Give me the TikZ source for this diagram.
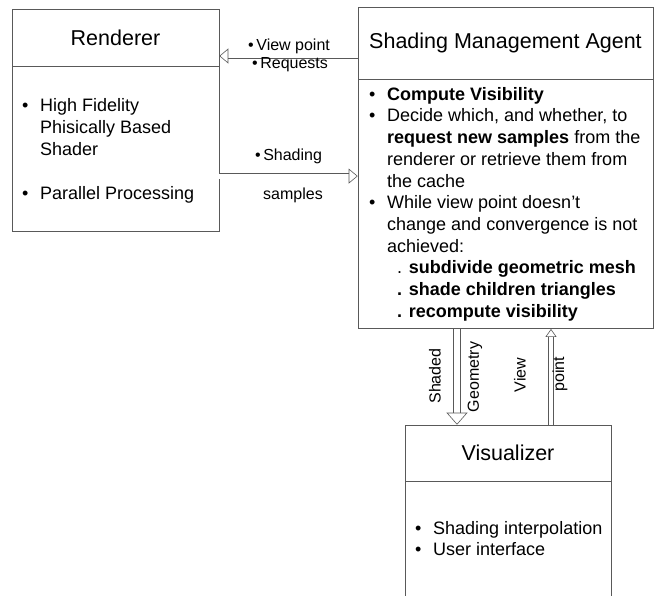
\documentclass[tikz,border=0pt]{standalone}
\usepackage{fontspec}
\setmainfont{Liberation Sans}
\usetikzlibrary{positioning, arrows.meta}

% list lines: bullet and hanging indent
\newcommand{\itm}[1]{\makebox[18pt][l]{\textbullet}#1}
\newcommand{\cnt}[1]{\hspace*{18pt}#1}

\begin{document}
\begin{tikzpicture}[ % GLOBAL CFG
    x=1pt, y=-1pt,
    % Styles
    head/.style={% Upper part of a box
        rectangle,
        draw=black!65,
        line width=0.6pt,
        inner sep=0pt,
        font=\fontsize{21.5}{26}\selectfont,
        },
    body/.style={% Lower part of a box
        rectangle,
        draw=black!65,
        line width=0.6pt,
        inner sep=0pt,
        },
    list/.style={% Bullet lists
        anchor=north west,
        align=left,
        inner sep=0pt,
        font=\fontsize{18}{21.7}\selectfont,
        },
    lbl/.style={% Arrow labels
        inner sep=0pt,
        font=\fontsize{16}{19}\selectfont,
        },
    Hollow/.style={% Double line with open head
        draw=black!65,
        line width=0.6pt,
        double,
        double distance=5pt,
        -{Triangle[open, length=9pt, width=15pt]},
        },
    ]
    \clip (0,0) rectangle (659,596);

    % Renderer
    \node [head, minimum width=207pt, minimum height=57pt] (rend) at (115.5, 37.5) {Renderer};
    \node [body, minimum width=207pt, minimum height=165pt, below=0pt of rend] (rendbody) {};
    \node [list] (rendtxt) at (22, 98.5) {\itm{High Fidelity}\\ \cnt{Phisically Based}\\ \cnt{Shader}\\[23pt] \itm{Parallel Processing}};

    % Shading Management Agent
    \node [head, minimum width=295pt, minimum height=72pt] (sma) at (505.5, 43) {Shading Management Agent};
    \node [body, minimum width=295pt, minimum height=249pt, below=0pt of sma] (smabody) {};
    \node [list] (smatxt) at (369, 87) {\itm{\textbf{Compute Visibility}}\\
        \itm{Decide which, and whether, to}\\
        \cnt{\textbf{request new samples} from the}\\
        \cnt{renderer or retrieve them from}\\
        \cnt{the cache}\\
        \itm{While view point doesn’t}\\
        \cnt{change and convergence is not}\\
        \cnt{achieved:}\\
        \cnt{\hspace*{10pt}. \textbf{subdivide geometric mesh}}\\
        \cnt{\hspace*{10pt}\textbf{. shade children triangles}}\\
        \cnt{\hspace*{10pt}\textbf{. recompute visibility}}};

    % Visualizer
    \node [head, minimum width=206pt, minimum height=56pt] (vis) at (508, 453) {Visualizer};
    \node [body, minimum width=206pt, minimum height=140pt, below=0pt of vis] (visbody) {};
    \node [list] (vistxt) at (415, 521) {\itm{Shading interpolation}\\ \itm{User interface}};

    % Renderer <-> agent
    \draw [Hollow] ([yshift=-13pt]sma.west) -- ([yshift=-18.5pt]rend.east);
    \node [lbl] (vp) at (289, 46) {\textbullet\,View point};
    \node [lbl] (rq) at (290, 65) {\textbullet\,Requests};
    \draw [Hollow] ([yshift=-27pt]rendbody.east) -- ([yshift=28pt]smabody.west);
    \node [lbl] (sh) at (288.5, 156) {\textbullet\,Shading};
    \node [lbl] (sa) at (293, 195) {samples};

    % Agent <-> visualizer
    \draw [Hollow, double distance=6pt, -{Triangle[open, length=12pt, width=21pt]}] ([xshift=-48.5pt]smabody.south) -- ([xshift=-51pt]vis.north);
    \draw [Hollow, double distance=4pt, -{Triangle[open, length=8pt, width=11pt]}] ([xshift=43pt]vis.north) -- ([xshift=45.5pt]smabody.south);
    \node [lbl, rotate=90] (sg1) at (435, 376) {Shaded};
    \node [lbl, rotate=90] (sg2) at (475, 377) {Geometry};
    \node [lbl, rotate=90] (vw1) at (520, 375) {View};
    \node [lbl, rotate=90] (vw2) at (560, 374) {point};
\end{tikzpicture}
\end{document}
